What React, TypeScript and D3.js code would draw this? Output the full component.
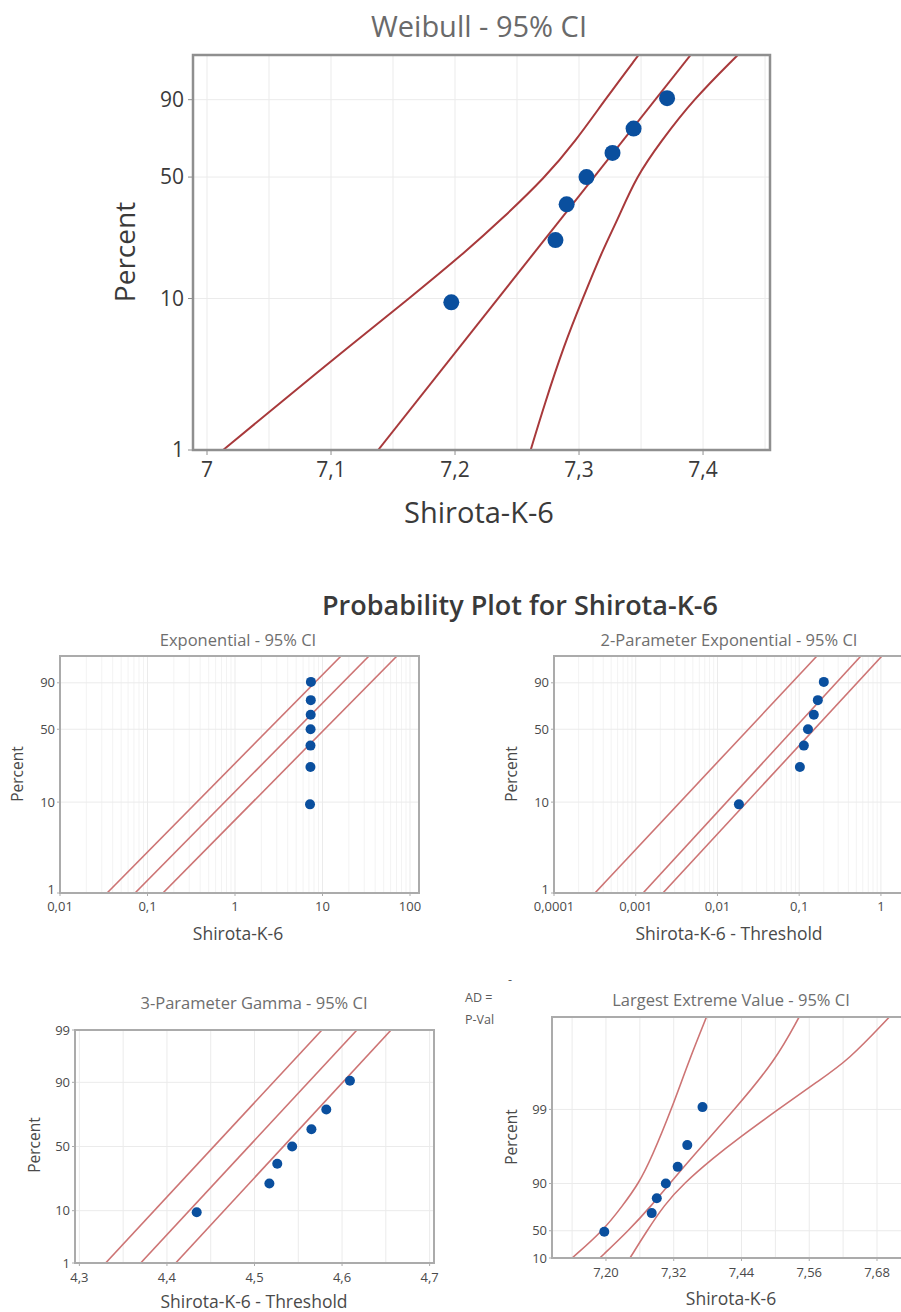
import * as d3 from 'd3';

// plotting positions (median ranks) shared by every panel
const pct = [9.46, 22.97, 36.49, 50.0, 63.51, 77.03, 90.54];

// raw data values
const shirota = [7.197, 7.281, 7.29, 7.306, 7.327, 7.344, 7.371];
// data - threshold
const twoParamX = [0.0183, 0.102, 0.114, 0.128, 0.151, 0.169, 0.2];
const gammaX = [4.434, 4.517, 4.526, 4.543, 4.565, 4.582, 4.609];

// Weibull fit + 95% CI (x read at these percents)
const wblPct = [1, 2, 5, 10, 20, 30, 50, 70, 90, 99];
const wblLeft = [7.013, 7.057, 7.116, 7.163, 7.21, 7.237, 7.273, 7.297, 7.321, 7.348];
const wblRight = [7.261, 7.272, 7.288, 7.303, 7.319, 7.331, 7.346, 7.366, 7.392, 7.428];
const wblFitPct = [1, 99];
const wblFit = [7.138, 7.39];

// Exponential
const expPct = [1, 99];
const expLeft = [0.0345, 16.3];
const expFit = [0.072, 34];
const expRight = [0.15, 71];

// 2-parameter exponential
const tpPct = [1, 99];
const tpLeft = [0.000317, 0.165];
const tpFit = [0.00123, 0.569];
const tpRight = [0.00215, 1.03];

// 3-parameter gamma
const gPct = [1, 99];
const gLeft = [4.33, 4.577];
const gFit = [4.37, 4.617];
const gRight = [4.41, 4.656];

// largest extreme value
const levPct = [1, 10, 30, 50, 70, 90, 97, 99];
const levLeft = [7.14, 7.195, 7.23, 7.258, 7.281, 7.316, 7.347, 7.378];
const levFit = [7.189, 7.24, 7.281, 7.313, 7.352, 7.428, 7.5, 7.542];
const levRightPct = [1, 10, 30, 50, 70, 80, 90, 95, 97, 99];
const levRight = [7.2425, 7.2727, 7.3028, 7.3375, 7.3913, 7.4331, 7.5047, 7.5755, 7.6287, 7.7019];

// tick values and labels
const pctTicks4 = [1, 10, 50, 90];
const pctLabels4 = ['1', '10', '50', '90'];
const gammaPctTicks = [1, 10, 50, 90, 99];
const gammaPctLabels = ['1', '10', '50', '90', '99'];
const levPctTicks = [1, 10, 50, 90];
const levPctLabels = ['10', '50', '90', '99'];

const wblXTicks = [7, 7.1, 7.2, 7.3, 7.4];
const wblXLabels = ['7', '7,1', '7,2', '7,3', '7,4'];
const expXTicks = [0.01, 0.1, 1, 10, 100];
const expXLabels = ['0,01', '0,1', '1', '10', '100'];
const tpXTicks = [0.0001, 0.001, 0.01, 0.1, 1];
const tpXLabels = ['0,0001', '0,001', '0,01', '0,1', '1'];
const gXTicks = [4.3, 4.4, 4.5, 4.6, 4.7];
const gXLabels = ['4,3', '4,4', '4,5', '4,6', '4,7'];
const levXTicks = [7.2, 7.32, 7.44, 7.56, 7.68];
const levXLabels = ['7,20', '7,32', '7,44', '7,56', '7,68'];

// inverse normal CDF (Acklam)
function probit(p: number) {
  const a = [-39.69683028665376, 220.9460984245205, -275.9285104469687, 138.357751867269, -30.66479806614716, 2.506628277459239];
  const b = [-54.47609879822406, 161.5858368580409, -155.6989798598866, 66.80131188771972, -13.28068155288572];
  const c = [-0.007784894002430293, -0.3223964580411365, -2.400758277161838, -2.549671792537264, 4.374664141464968, 2.938163982698783];
  const d = [0.007784695709041462, 0.3224671290700398, 2.445134137142996, 3.754408661907416];
  const pl = 0.02425;
  if (p < pl) {
    const q = Math.sqrt(-2 * Math.log(p));
    return (((((c[0] * q + c[1]) * q + c[2]) * q + c[3]) * q + c[4]) * q + c[5]) / ((((d[0] * q + d[1]) * q + d[2]) * q + d[3]) * q + 1);
  }
  if (p > 1 - pl) {
    const q = Math.sqrt(-2 * Math.log(1 - p));
    return -(((((c[0] * q + c[1]) * q + c[2]) * q + c[3]) * q + c[4]) * q + c[5]) / ((((d[0] * q + d[1]) * q + d[2]) * q + d[3]) * q + 1);
  }
  const q = p - 0.5;
  const r = q * q;
  return ((((((a[0] * r + a[1]) * r + a[2]) * r + a[3]) * r + a[4]) * r + a[5]) * q) / (((((b[0] * r + b[1]) * r + b[2]) * r + b[3]) * r + b[4]) * r + 1);
}

const weibullT = (p: number) => Math.log(-Math.log(1 - p / 100));
const levT = (p: number) => -Math.log(-Math.log(p / 100));
const normT = (p: number) => probit(p / 100);

const FONT = "'Open Sans', 'Noto Sans', sans-serif";

const bigStyle = {
  tick: 21, title: 29, axis: 29, ylab: 28, r: 8, lineW: 2, lineC: '#a8393b',
  boxW: 2.5, boxC: '#8f8f8f', titleC: '#6a6a6a', textC: '#3a3a3a', tickLen: 5,
};
const smallStyle = {
  tick: 13, title: 16.5, axis: 17.5, ylab: 15.5, r: 5, lineW: 1.6, lineC: '#cd7474',
  boxW: 2, boxC: '#ababab', titleC: '#6e6e6e', textC: '#4a4a4a', tickLen: 3,
};

type Box = { l: number; r: number; t: number; b: number };

type PanelCfg = {
  id: string;
  box: Box;
  x: any;
  xGrid: number[];
  xMajor?: number[];
  tf: (p: number) => number;
  pLo: number;
  pHi: number;
  yTicks: number[];
  yLabels: string[];
  xTicks: number[];
  xLabels: string[];
  points: number[];
  lines: { xs: number[]; ps: number[] }[];
  title: string;
  xTitle: string;
  titleX: number;
  titleY: number;
  xTitleY: number;
  yLabX: number;
  yLabY: number;
  yTickX: number;
  xTickY: number;
  liftBottom?: boolean;
  sty: typeof bigStyle;
};

function Panel({ cfg }: { cfg: PanelCfg }) {
  const { box, x, tf, sty } = cfg;
  const y = d3.scaleLinear().domain([tf(cfg.pLo), tf(cfg.pHi)]).range([box.b, box.t]);
  const yp = (p: number) => y(tf(p));
  const line = d3
    .line<[number, number]>()
    .x((d) => x(d[0]))
    .y((d) => yp(d[1]))
    .curve(d3.curveBasis);
  const major = new Set(cfg.xMajor || []);

  return (
    <g>
      <defs>
        <clipPath id={`clip-${cfg.id}`}>
          <rect x={box.l} y={box.t} width={box.r - box.l} height={box.b - box.t} />
        </clipPath>
      </defs>
      <rect x={box.l} y={box.t} width={box.r - box.l} height={box.b - box.t} fill="#fff" />
      {/* grid */}
      <g strokeWidth={1}>
        {cfg.xGrid.map((v, i) => (
          <line
            key={'gx' + i}
            x1={x(v)}
            x2={x(v)}
            y1={box.t}
            y2={box.b}
            stroke={cfg.xMajor && !major.has(v) ? '#f3f3f3' : '#ebebeb'}
          />
        ))}
        {cfg.yTicks.map((p, i) => (
          <line key={'gy' + i} x1={box.l} x2={box.r} y1={yp(p)} y2={yp(p)} stroke="#ebebeb" />
        ))}
      </g>
      {/* fit + CI */}
      <g clipPath={`url(#clip-${cfg.id})`}>
        {cfg.lines.map((ln, i) => (
          <path
            key={'l' + i}
            d={line(d3.zip(ln.xs, ln.ps) as [number, number][]) || ''}
            fill="none"
            stroke={sty.lineC}
            strokeWidth={sty.lineW}
          />
        ))}
        {cfg.points.map((v, i) => (
          <circle key={'p' + i} cx={x(v)} cy={yp(pct[i])} r={sty.r} fill="#0a4f9e" />
        ))}
      </g>
      <rect
        x={box.l}
        y={box.t}
        width={box.r - box.l}
        height={box.b - box.t}
        fill="none"
        stroke={sty.boxC}
        strokeWidth={sty.boxW}
      />
      {/* ticks */}
      <g stroke={sty.boxC} strokeWidth={1}>
        {cfg.xTicks.map((v, i) => (
          <line key={'tx' + i} x1={x(v)} x2={x(v)} y1={box.b} y2={box.b + sty.tickLen} />
        ))}
        {cfg.yTicks.map((p, i) => (
          <line key={'ty' + i} x1={box.l - sty.tickLen} x2={box.l} y1={yp(p)} y2={yp(p)} />
        ))}
      </g>
      <g fill={sty.textC} fontSize={sty.tick}>
        {cfg.xTicks.map((v, i) => (
          <text key={'xl' + i} x={x(v)} y={cfg.xTickY} textAnchor="middle">
            {cfg.xLabels[i]}
          </text>
        ))}
        {cfg.yTicks.map((p, i) => (
          <text
            key={'yl' + i}
            x={cfg.yTickX}
            y={yp(p)}
            dy={cfg.liftBottom && p === cfg.pLo ? '0.1em' : '0.35em'}
            textAnchor="end"
          >
            {cfg.yLabels[i]}
          </text>
        ))}
      </g>
      <text x={cfg.titleX} y={cfg.titleY} textAnchor="middle" fontSize={sty.title} fill={sty.titleC}>
        {cfg.title}
      </text>
      <text x={cfg.titleX} y={cfg.xTitleY} textAnchor="middle" fontSize={sty.axis} fill={sty.textC}>
        {cfg.xTitle}
      </text>
      <text
        transform={`translate(${cfg.yLabX},${cfg.yLabY}) rotate(-90)`}
        dy="0.35em"
        textAnchor="middle"
        fontSize={sty.ylab}
        fill={sty.textC}
      >
        Percent
      </text>
    </g>
  );
}

export default function App() {
  const wblX = d3.scaleLinear().domain([6.9887, 7.454]).range([193, 770]);
  const expX = d3.scaleLog().domain([0.01, 126.7]).range([60, 419]);
  const tpX = d3.scaleLog().domain([0.0001, 1.97]).range([554, 905]);
  const gX = d3.scaleLinear().domain([4.295, 4.705]).range([75, 434]);
  const levX = d3.scaleLinear().domain([7.1044, 7.7296]).range([552, 905]);

  const panels: PanelCfg[] = [
    {
      id: 'wbl', box: { l: 193, r: 770, t: 55, b: 450 }, x: wblX, xGrid: wblX.ticks(10),
      tf: weibullT, pLo: 1, pHi: 99, yTicks: pctTicks4, yLabels: pctLabels4,
      xTicks: wblXTicks, xLabels: wblXLabels, points: shirota,
      lines: [
        { xs: wblLeft, ps: wblPct },
        { xs: wblFit, ps: wblFitPct },
        { xs: wblRight, ps: wblPct },
      ],
      title: 'Weibull - 95% CI', xTitle: 'Shirota-K-6',
      titleX: 479, titleY: 37, xTitleY: 523, yLabX: 125, yLabY: 252, yTickX: 184, xTickY: 477,
      sty: bigStyle,
    },
    {
      id: 'exp', box: { l: 60, r: 419, t: 656, b: 893 }, x: expX, xGrid: expX.ticks(), xMajor: expXTicks,
      tf: weibullT, pLo: 1, pHi: 99, yTicks: pctTicks4, yLabels: pctLabels4,
      xTicks: expXTicks, xLabels: expXLabels, points: shirota,
      lines: [
        { xs: expLeft, ps: expPct },
        { xs: expFit, ps: expPct },
        { xs: expRight, ps: expPct },
      ],
      title: 'Exponential - 95% CI', xTitle: 'Shirota-K-6',
      titleX: 238, titleY: 646, xTitleY: 940, yLabX: 18, yLabY: 774, yTickX: 55, xTickY: 911,
      liftBottom: true, sty: smallStyle,
    },
    {
      id: 'tp', box: { l: 554, r: 905, t: 656, b: 893 }, x: tpX, xGrid: tpX.ticks(), xMajor: tpXTicks,
      tf: weibullT, pLo: 1, pHi: 99, yTicks: pctTicks4, yLabels: pctLabels4,
      xTicks: tpXTicks, xLabels: tpXLabels, points: twoParamX,
      lines: [
        { xs: tpLeft, ps: tpPct },
        { xs: tpFit, ps: tpPct },
        { xs: tpRight, ps: tpPct },
      ],
      title: '2-Parameter Exponential - 95% CI', xTitle: 'Shirota-K-6 - Threshold',
      titleX: 729, titleY: 646, xTitleY: 940, yLabX: 512, yLabY: 774, yTickX: 549, xTickY: 911,
      liftBottom: true, sty: smallStyle,
    },
    {
      id: 'gam', box: { l: 75, r: 434, t: 1030, b: 1263 }, x: gX, xGrid: gX.ticks(8),
      tf: normT, pLo: 1, pHi: 99, yTicks: gammaPctTicks, yLabels: gammaPctLabels,
      xTicks: gXTicks, xLabels: gXLabels, points: gammaX,
      lines: [
        { xs: gLeft, ps: gPct },
        { xs: gFit, ps: gPct },
        { xs: gRight, ps: gPct },
      ],
      title: '3-Parameter Gamma - 95% CI', xTitle: 'Shirota-K-6 - Threshold',
      titleX: 254, titleY: 1009, xTitleY: 1308, yLabX: 35, yLabY: 1145, yTickX: 70, xTickY: 1282,
      sty: smallStyle,
    },
    {
      id: 'lev', box: { l: 552, r: 905, t: 1017, b: 1258 }, x: levX, xGrid: d3.range(7.14, 7.73, 0.06),
      tf: levT, pLo: 1, pHi: 99, yTicks: levPctTicks, yLabels: levPctLabels,
      xTicks: levXTicks, xLabels: levXLabels, points: shirota,
      lines: [
        { xs: levLeft, ps: levPct },
        { xs: levFit, ps: levPct },
        { xs: levRight, ps: levRightPct },
      ],
      title: 'Largest Extreme Value - 95% CI', xTitle: 'Shirota-K-6',
      titleX: 731, titleY: 1006, xTitleY: 1305, yLabX: 512, yLabY: 1137, yTickX: 547, xTickY: 1277,
      sty: smallStyle,
    },
  ];

  return (
    <svg
      width={901}
      height={1312}
      style={{ position: 'absolute', left: 0, top: 0, background: '#fff' }}
      fontFamily={FONT}
    >
      <rect width={901} height={1312} fill="#fff" />
      {panels.map((p) => (
        <Panel key={p.id} cfg={p} />
      ))}
      <text x={520} y={615} textAnchor="middle" fontSize={27} fontWeight={600} fill="#3a3a3a">
        Probability Plot for Shirota-K-6
      </text>
      <g fontSize={12.5} fill="#5a5a5a">
        <text x={508} y={984}>-</text>
        <text x={465} y={1002}>AD =</text>
        <text x={465} y={1024}>P-Val</text>
      </g>
    </svg>
  );
}
